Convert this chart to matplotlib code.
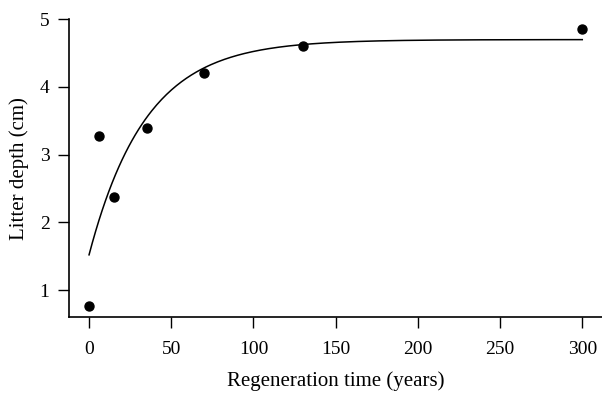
import matplotlib.pyplot as plt
import numpy as np

# observed litter depth
years = [0, 6, 15, 35, 70, 130, 300]
depth = [0.76, 3.28, 2.38, 3.40, 4.20, 4.60, 4.86]

# fitted curve parameters: y = asym - (asym - start) * exp(-rate * t)
asym = 4.70
start = 1.52
rate = 0.029

xticks = [0, 50, 100, 150, 200, 250, 300]
yticks = [1, 2, 3, 4, 5]

plt.rcParams['font.family'] = ['Liberation Serif', 'DejaVu Serif']
plt.rcParams['font.size'] = 14

fig = plt.figure(figsize=(6.02, 3.93), dpi=100)
ax = fig.add_axes([0.1146, 0.1926, 0.8854, 0.7583])

t = np.linspace(0, max(years), 300)
fit = asym - (asym - start) * np.exp(-rate * t)
ax.plot(t, fit, color="black", lw=1.1)
ax.scatter(years, depth, s=42, color="black", zorder=3)

ax.set_xlim(-12.2, 312)
ax.set_ylim(0.597, 5)
ax.set_xticks(xticks)
ax.set_yticks(yticks)
ax.spines['top'].set_visible(False)
ax.spines['right'].set_visible(False)
ax.spines['left'].set_linewidth(1.2)
ax.spines['bottom'].set_linewidth(1.2)
ax.tick_params(direction="out", length=8, width=1, labelsize=14)
ax.tick_params(axis="x", pad=9)
ax.tick_params(axis="y", pad=6)
ax.set_xlabel("Regeneration time (years)", fontsize=15, labelpad=9.5)
ax.set_ylabel("Litter depth (cm)", fontsize=15, labelpad=8)

fig.savefig("out.png", dpi=100)
